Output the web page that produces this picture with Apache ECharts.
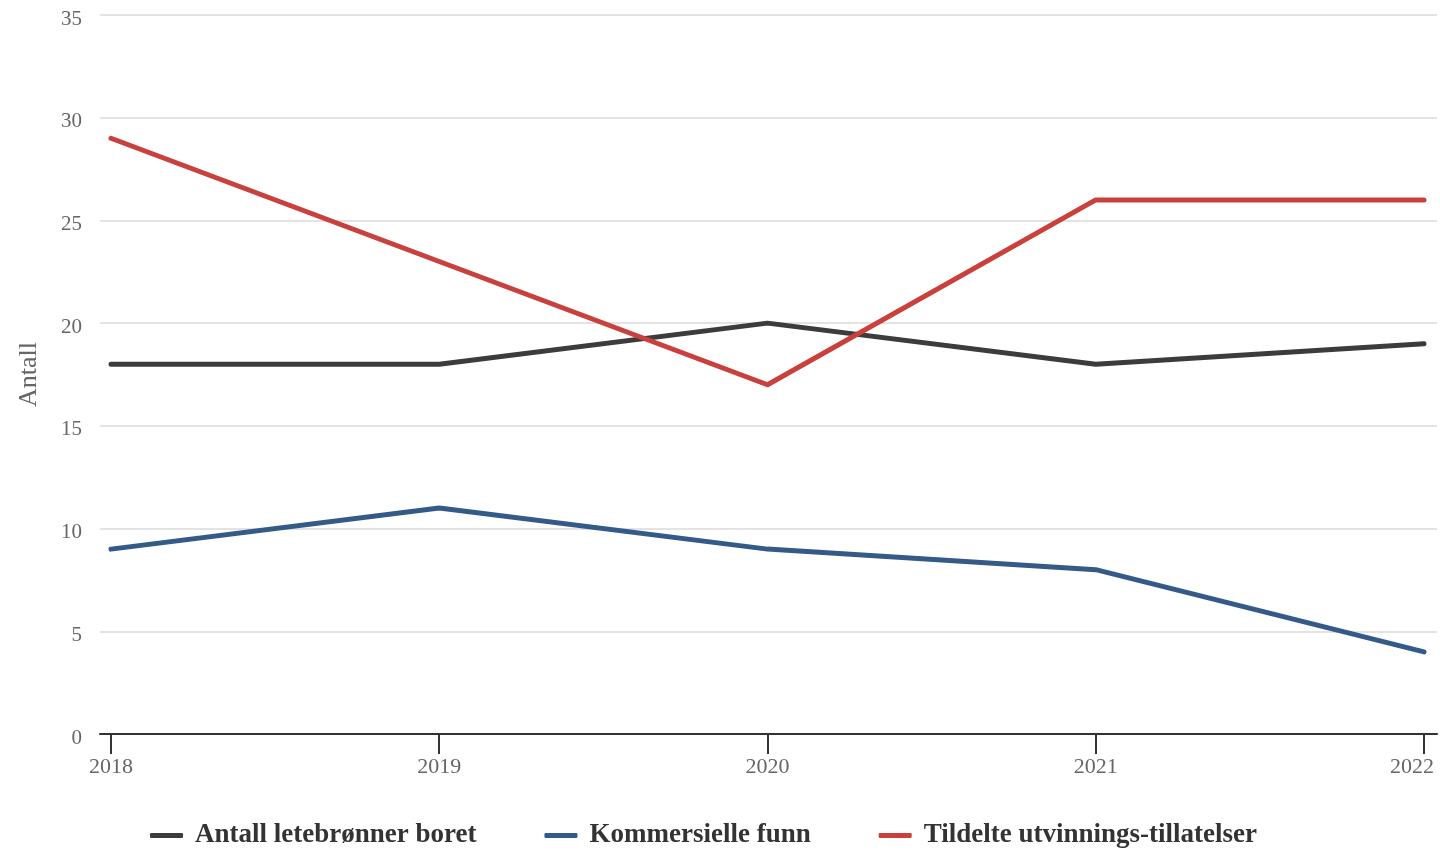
<!DOCTYPE html>
<html>
<head>
<meta charset="utf-8">
<script src="https://cdn.jsdelivr.net/npm/echarts@6/dist/echarts.min.js"></script>
<style>
  html, body { margin: 0; padding: 0; background: #fff; }
  #myChart { width: 1440px; height: 851px; }
</style>
</head>
<body>
<div id="myChart"></div>
<script>
// data
var years = [2018, 2019, 2020, 2021, 2022];
var letebronner = [18, 18, 20, 18, 19];
var funn = [9, 11, 9, 8, 4];
var tillatelser = [29, 23, 17, 26, 26];

var serif = '"Liberation Serif", "DejaVu Serif", serif';

function pairs(vals) {
  return years.map(function (y, i) { return [y, vals[i]]; });
}

var myChart = echarts.init(document.getElementById('myChart'));
var option = {
  backgroundColor: '#fff',
  animation: false,
  grid: { left: 100, right: 3, top: 15, bottom: 117, outerBoundsMode: 'none', containLabel: false },
  legend: {
    top: 817,
    left: 145,
    itemWidth: 33,
    itemHeight: 5,
    itemGap: 68,
    icon: 'roundRect',
    textStyle: { fontFamily: serif, fontWeight: 'bold', fontSize: 27, color: '#333', padding: [0, 0, 0, 7] },
    data: ['Antall letebrønner boret', 'Kommersielle funn', 'Tildelte utvinnings-tillatelser']
  },
  xAxis: {
    type: 'value',
    min: 2017.9665,
    max: 2022.0396,
    splitLine: { show: false },
    axisLine: { show: true, lineStyle: { color: '#333', width: 2 } },
    axisTick: { show: true, customValues: years, length: 20, lineStyle: { color: '#333', width: 2 } },
    axisLabel: {
      customValues: years,
      formatter: function (v) {
        // last label is pushed left so it stays inside the chart
        return v === years[years.length - 1] ? '{last|' + v + '}' : String(v);
      },
      rich: { last: { fontFamily: serif, fontSize: 22, color: '#666', padding: [0, 24, 0, 0] } },
      fontFamily: serif, fontSize: 22, color: '#666', margin: 22
    }
  },
  yAxis: {
    type: 'value',
    min: 0,
    max: 35,
    interval: 5,
    name: 'Antall',
    nameLocation: 'middle',
    nameGap: 58,
    nameTextStyle: { fontFamily: serif, fontSize: 26, color: '#666' },
    axisLine: { show: false },
    axisTick: { show: false },
    axisLabel: { fontFamily: serif, fontSize: 21, color: '#666', margin: 18, verticalAlign: 'top', lineHeight: 8 },
    splitLine: { lineStyle: { color: '#e3e3e3', width: 2 } }
  },
  series: [
    {
      name: 'Antall letebrønner boret',
      type: 'line',
      data: pairs(letebronner),
      symbol: 'none',
      color: '#3c3c3c',
      lineStyle: { width: 5, cap: 'round', join: 'round' }
    },
    {
      name: 'Kommersielle funn',
      type: 'line',
      data: pairs(funn),
      symbol: 'none',
      color: '#335a89',
      lineStyle: { width: 5, cap: 'round', join: 'round' }
    },
    {
      name: 'Tildelte utvinnings-tillatelser',
      type: 'line',
      data: pairs(tillatelser),
      symbol: 'none',
      color: '#c9403d',
      lineStyle: { width: 5, cap: 'round', join: 'round' }
    }
  ]
};
myChart.setOption(option);
</script>
</body>
</html>
